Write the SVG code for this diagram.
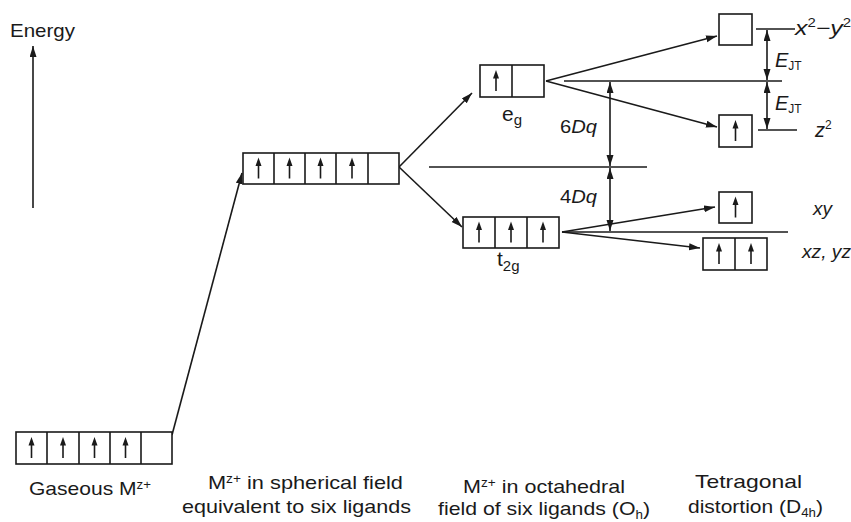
<svg xmlns="http://www.w3.org/2000/svg" width="851" height="522" viewBox="0 0 851 522">
<style>
.box{fill:#fff;stroke:#1a1a1a;stroke-width:1.6}
.ln{fill:none;stroke:#1a1a1a;stroke-width:1.6}
.t{font-family:"Liberation Sans",Arial,Helvetica,sans-serif;font-size:19px;fill:#1a1a1a}
.i{font-style:italic}
.sm{font-size:12px}
.lab{font-size:20px}
</style>
<defs>
<marker id="ah" markerUnits="userSpaceOnUse" markerWidth="12" markerHeight="8" refX="11" refY="3.5" orient="auto-start-reverse">
<path d="M0,0 L11,3.5 L0,7 Z" fill="#1a1a1a"/>
</marker>
<g id="spin">
<path d="M0,10 V-5" stroke="#1a1a1a" stroke-width="1.6"/>
<path d="M0,-11 L-3,-2.5 L3,-2.5 Z" fill="#1a1a1a"/>
</g>
</defs>
<rect width="851" height="522" fill="#fff"/>

<g id="energy-axis">
<text class="t" x="10" y="37" textLength="65" lengthAdjust="spacingAndGlyphs">Energy</text>
<line class="ln" x1="33" y1="208" x2="33" y2="46" marker-end="url(#ah)"/>
</g>

<g id="connectors">
<line class="ln" x1="172" y1="435" x2="242" y2="173" marker-end="url(#ah)"/>
<line class="ln" x1="399" y1="167" x2="472" y2="93" marker-end="url(#ah)"/>
<line class="ln" x1="399" y1="167" x2="462" y2="227" marker-end="url(#ah)"/>
<line class="ln" x1="546" y1="81" x2="717" y2="36" marker-end="url(#ah)"/>
<line class="ln" x1="546" y1="81" x2="717" y2="127" marker-end="url(#ah)"/>
<line class="ln" x1="562" y1="232" x2="715" y2="207" marker-end="url(#ah)"/>
<line class="ln" x1="562" y1="232" x2="700" y2="248" marker-end="url(#ah)"/>
<line class="ln" x1="564" y1="81" x2="782" y2="81"/>
<line class="ln" x1="429" y1="167" x2="647" y2="167"/>
<line class="ln" x1="562" y1="232" x2="788" y2="232"/>
<line class="ln" x1="756" y1="29" x2="795" y2="29"/>
<line class="ln" x1="758" y1="130" x2="797" y2="130"/>
<line class="ln" x1="767" y1="30" x2="767" y2="80" marker-start="url(#ah)" marker-end="url(#ah)"/>
<line class="ln" x1="767" y1="82" x2="767" y2="129" marker-start="url(#ah)" marker-end="url(#ah)"/>
<line class="ln" x1="610" y1="82" x2="610" y2="166" marker-start="url(#ah)" marker-end="url(#ah)"/>
<line class="ln" x1="610" y1="168" x2="610" y2="231" marker-start="url(#ah)" marker-end="url(#ah)"/>
</g>

<g id="gaseous">
<rect class="box" x="16" y="432" width="156" height="32"/>
<path class="ln" d="M47,432V464M79,432V464M110,432V464M141,432V464"/>
<use href="#spin" x="31.5" y="448"/>
<use href="#spin" x="63" y="448"/>
<use href="#spin" x="94.5" y="448"/>
<use href="#spin" x="125.5" y="448"/>
<text class="t" x="29" y="495" textLength="122" lengthAdjust="spacingAndGlyphs">Gaseous M<tspan class="sm" dy="-6">z+</tspan></text>
</g>

<g id="spherical">
<rect class="box" x="243" y="153" width="156" height="31"/>
<path class="ln" d="M274,153V184M305,153V184M336,153V184M368,153V184"/>
<use href="#spin" x="258.5" y="168.5"/>
<use href="#spin" x="289.5" y="168.5"/>
<use href="#spin" x="320.5" y="168.5"/>
<use href="#spin" x="352" y="168.5"/>
<text class="t" x="208" y="489" textLength="195" lengthAdjust="spacingAndGlyphs">M<tspan class="sm" dy="-6">z+</tspan><tspan dy="6"> in spherical field</tspan></text>
<text class="t" x="182" y="513" textLength="229" lengthAdjust="spacingAndGlyphs">equivalent to six ligands</text>
</g>

<g id="eg">
<rect class="box" x="480" y="65" width="64" height="32"/>
<path class="ln" d="M512,65V97"/>
<use href="#spin" x="496" y="81"/>
<text class="t" x="502" y="121" style="font-size:21px">e<tspan style="font-size:15px" dy="4">g</tspan></text>
</g>

<g id="t2g">
<rect class="box" x="463" y="217" width="96" height="31"/>
<path class="ln" d="M495,217V248M527,217V248"/>
<use href="#spin" x="479" y="232.5"/>
<use href="#spin" x="511" y="232.5"/>
<use href="#spin" x="543" y="232.5"/>
<text class="t" x="497" y="266" style="font-size:21px">t<tspan style="font-size:15px" dy="5">2g</tspan></text>
</g>

<g id="octahedral-label">
<text class="t" x="463" y="493" textLength="162" lengthAdjust="spacingAndGlyphs">M<tspan class="sm" dy="-6">z+</tspan><tspan dy="6"> in octahedral</tspan></text>
<text class="t" x="438" y="515" textLength="212" lengthAdjust="spacingAndGlyphs">field of six ligands (O<tspan class="sm" dy="4">h</tspan><tspan dy="-4">)</tspan></text>
</g>

<g id="dq-labels">
<text class="t" x="560" y="133" textLength="37" lengthAdjust="spacingAndGlyphs">6<tspan class="i">Dq</tspan></text>
<text class="t" x="560" y="203" textLength="37" lengthAdjust="spacingAndGlyphs">4<tspan class="i">Dq</tspan></text>
</g>

<g id="x2y2">
<rect class="box" x="719" y="14" width="33" height="31"/>
<text class="t i lab" x="795" y="35" textLength="56" lengthAdjust="spacingAndGlyphs">x<tspan class="sm" style="font-style:normal" dy="-8">2</tspan><tspan dy="8">−y</tspan><tspan class="sm" style="font-style:normal" dy="-8">2</tspan></text>
</g>

<g id="z2">
<rect class="box" x="719" y="115" width="33" height="32"/>
<use href="#spin" x="735.5" y="131"/>
<text class="t i lab" x="815" y="137">z<tspan class="sm" style="font-style:normal" dy="-8">2</tspan></text>
</g>

<g id="ejt-labels">
<text class="t i lab" x="775" y="67">E<tspan class="sm" style="font-style:normal" dy="3">JT</tspan></text>
<text class="t i lab" x="775" y="110">E<tspan class="sm" style="font-style:normal" dy="3">JT</tspan></text>
</g>

<g id="xy">
<rect class="box" x="719" y="192" width="33" height="31"/>
<use href="#spin" x="735.5" y="207.5"/>
<text class="t i" x="813" y="215">xy</text>
</g>

<g id="xzyz">
<rect class="box" x="703" y="238" width="64" height="32"/>
<path class="ln" d="M735,238V270"/>
<use href="#spin" x="719" y="254"/>
<use href="#spin" x="751" y="254"/>
<text class="t i" x="802" y="258" textLength="49" lengthAdjust="spacingAndGlyphs">xz, yz</text>
</g>

<g id="tetragonal-label">
<text class="t" x="695" y="488" textLength="107" lengthAdjust="spacingAndGlyphs">Tetragonal</text>
<text class="t" x="688" y="513" textLength="135" lengthAdjust="spacingAndGlyphs">distortion (D<tspan class="sm" dy="4">4h</tspan><tspan dy="-4">)</tspan></text>
</g>
</svg>
